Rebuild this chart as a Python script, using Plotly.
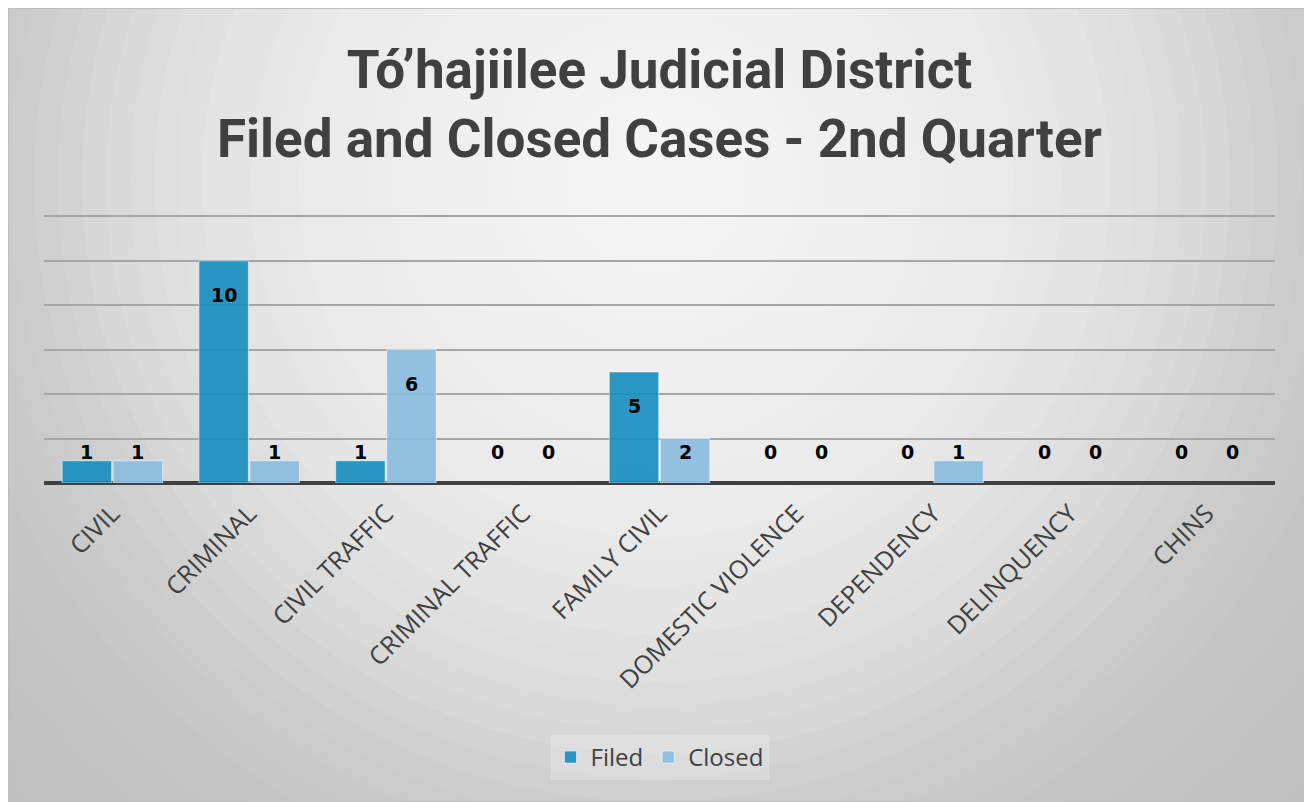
import plotly.graph_objects as go

categories = ["CIVIL", "CRIMINAL", "CIVIL TRAFFIC", "CRIMINAL TRAFFIC", "FAMILY CIVIL",
              "DOMESTIC VIOLENCE", "DEPENDENCY", "DELINQUENCY", "CHINS"]
filed = [1, 10, 1, 0, 5, 0, 0, 0, 0]
closed = [1, 1, 6, 0, 2, 0, 1, 0, 0]
series_names = ["Filed", "Closed"]
title_lines = ["Tó’hajiilee Judicial District", "Filed and Closed Cases - 2nd Quarter"]

# ---- layout geometry (figure pixels) ----
W, H = 1304, 794
Y_TOP = 12.2
L, R, T, B = 36, 37, 204, 319
PW, PH = W - L - R, H - T - B
PPU = PH / Y_TOP  # pixels per unit

FILED_COL = "rgba(21,141,188,0.9)"
CLOSED_COL = "rgba(137,186,224,0.9)"
TEXT_COL = "#404040"

fig = go.Figure()
for name, vals, col in ((series_names[0], filed, FILED_COL), (series_names[1], closed, CLOSED_COL)):
    fig.add_trace(go.Bar(name=name, x=categories, y=vals,
                         marker=dict(color=col,
                                     line=dict(color="rgba(255,255,255,0.55)",
                                               width=[1 if v > 0 else 0 for v in vals]))))

# data labels (inside end, floor near the baseline)
inset = 34 / PPU
floor = 31 / PPU
annotations = []
for vals, shift in ((filed, -25.5), (closed, 25.5)):
    for c, v in zip(categories, vals):
        annotations.append(dict(x=c, y=max(v - inset, floor), xref="x", yref="y",
                                text=str(v), showarrow=False, xshift=shift,
                                font=dict(family="DejaVu Sans", size=19, color="#000000", weight="bold"),
                                yanchor="middle", xanchor="center"))

# radial background made of concentric rings
def px_to_paper(xp, yp):
    return (xp - L) / PW, (H - B - yp) / PH

cx, cy = px_to_paper(648, 172)
stops = [(0, 246), (300, 237), (450, 228), (550, 218), (650, 204), (800, 195), (1000, 188), (1200, 186)]

def shade(r):
    for (r0, c0), (r1, c1) in zip(stops, stops[1:]):
        if r0 <= r <= r1:
            return c0 + (c1 - c0) * (r - r0) / (r1 - r0)
    return stops[-1][1]

shapes = []
r = 1150
while r > 0:
    g = int(round(shade(r)))
    shapes.append(dict(type="circle", xref="paper", yref="paper", xsizemode="pixel", ysizemode="pixel",
                       xanchor=cx, yanchor=cy, x0=-r, x1=r, y0=-r, y1=r,
                       fillcolor=f"rgb({g},{g},{g})", line=dict(width=0), layer="below"))
    r -= 24

# chart border (top / left visible)
x0p, y1p = px_to_paper(0, 0)
x1p, y0p = px_to_paper(W, H)
shapes.append(dict(type="rect", xref="paper", yref="paper", x0=x0p, x1=x1p, y0=y0p, y1=y1p,
                   line=dict(color="#bfbfbf", width=2), fillcolor="rgba(0,0,0,0)", layer="below"))

fig.update_layout(
    width=W, height=H,
    margin=dict(l=L, r=R, t=T, b=B, pad=0),
    paper_bgcolor="#ffffff", plot_bgcolor="rgba(0,0,0,0)",
    barmode="group", bargap=0.254, bargroupgap=0.03,
    title=dict(text="<br>".join(title_lines), x=0.5, xref="paper", xanchor="center",
               y=1 - 80 / H, yref="container", yanchor="middle",
               font=dict(family="Liberation Sans Narrow, Roboto, Arial", size=53, color=TEXT_COL, weight="bold")),
    xaxis=dict(showgrid=False, tickangle=-45, ticks="", showline=False, ticklabelstandoff=10,
               tickfont=dict(family="Open Sans", size=25, color=TEXT_COL), fixedrange=True),
    yaxis=dict(range=[0, Y_TOP], tickvals=[0, 2, 4, 6, 8, 10, 12], showticklabels=False,
               gridcolor="#a6a6a6", gridwidth=1.5,
               zeroline=True, zerolinecolor=TEXT_COL, zerolinewidth=4, fixedrange=True),
    legend=dict(orientation="h", x=0.5, xanchor="center", y=(H - B - 749.5) / PH, yanchor="middle",
                bgcolor="rgba(255,255,255,0.22)", font=dict(family="Open Sans", size=24, color=TEXT_COL),
                itemwidth=30, traceorder="normal"),
    showlegend=True,
    annotations=annotations,
    shapes=shapes,
)

fig.write_html("out.html", post_script="document.body.style.overflow='hidden';")
